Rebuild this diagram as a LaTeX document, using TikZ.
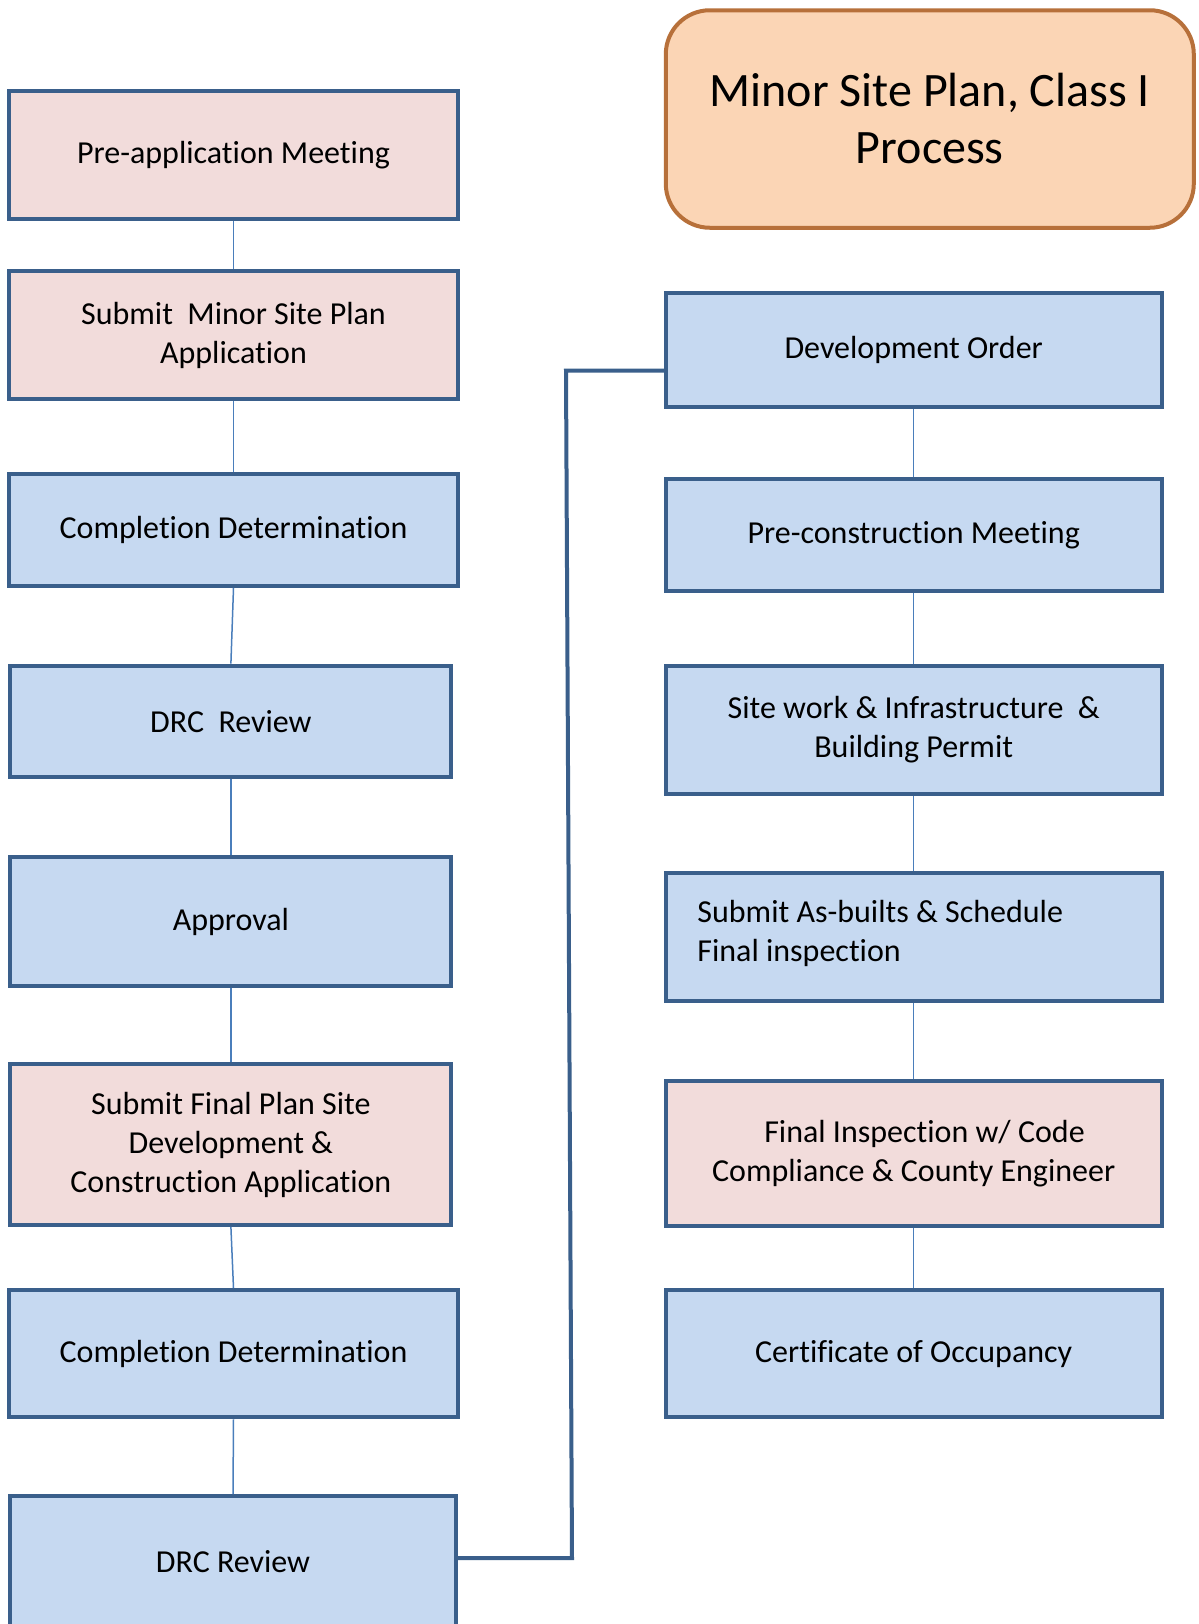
\documentclass[tikz,border=0pt]{standalone}
\usepackage{fontspec}
\setmainfont{Carlito}[Ligatures=NoCommon]
\definecolor{boxline}{HTML}{3A5F8B}
\definecolor{boxblue}{HTML}{C6D9F1}
\definecolor{boxpink}{HTML}{F2DCDB}
\definecolor{titlefill}{HTML}{FBD5B5}
\definecolor{titleline}{HTML}{B7703A}
\definecolor{linkblue}{HTML}{4A7EBB}
\begin{document}
\begin{tikzpicture}
[
    x=0.5pt, y=-0.5pt,
    boxfont/.style={font=\fontsize{16}{19.5}\selectfont},
    box/.style={draw=boxline, line width=2pt, inner sep=0pt, align=center, boxfont},
    bluebox/.style={box, fill=boxblue},
    pinkbox/.style={box, fill=boxpink},
    boxsize/.style 2 args={minimum width=#1*0.5pt, minimum height=#2*0.5pt},
    link/.style={draw=linkblue, line width=0.75pt},
    jump/.style={draw=boxline, line width=2pt},
]
\useasboundingbox (0,0) rectangle (1199,1624);
% title
\node [draw=titleline, fill=titlefill, line width=2pt, rounded corners=22pt,
       boxsize={528}{217.5}, align=center, font=\fontsize{24}{28.5}\selectfont]
      (title) at (929.8,119) {Minor Site Plan, Class I\\Process};
% left column
\node [pinkbox, boxsize={448.4}{128.4}] (preapp) at (233.5,155) {Pre-application Meeting};
\node [pinkbox, boxsize={448.4}{127.6}] (submit) at (233.5,335) {Submit\ \ Minor Site Plan\\Application};
\node [bluebox, boxsize={448.4}{112}] (compl) at (233.5,530) {Completion Determination};
\node [bluebox, boxsize={441}{111.8}] (drc) at (230.9,721.5) {DRC\ \ Review};
\node [bluebox, boxsize={441}{128.4}] (approval) at (230.9,921.5) {Approval};
\node [pinkbox, boxsize={441}{160.5}] (final) at (230.9,1144.6) {Submit Final Plan Site\\Development \&\\Construction Application};
\node [bluebox, boxsize={448.4}{127.4}] (compltwo) at (233.5,1353.7) {Completion Determination};
\node [bluebox, boxsize={445.2}{136}] (drctwo) at (233,1564) {};
\node [boxfont] (drctwotext) at (233,1562) {DRC Review};
% right column
\node [bluebox, boxsize={495.9}{114}] (devord) at (913.7,350) {Development Order};
\node [bluebox, boxsize={495.9}{111.8}] (precon) at (913.7,535.3) {Pre-construction Meeting};
\node [bluebox, boxsize={495.9}{128.4}] (sitework) at (913.7,729.9) {Site work \& Infrastructure\ \ \&\\Building Permit};
\node [bluebox, boxsize={495.9}{128.4}] (asbuilt) at (913.7,937) {};
\node [boxfont, align=left, anchor=west, inner sep=0pt] (asbuilttext) at (697,933)
      {Submit As-builts \& Schedule\\Final inspection};
\node [pinkbox, boxsize={495.9}{145}] (inspect) at (913.7,1153.5) {\ \ \ Final Inspection w/ Code\\Compliance \& County Engineer};
\node [bluebox, boxsize={495.9}{127.4}] (cert) at (913.7,1353.7) {Certificate of Occupancy};
% connectors
\draw [link] (preapp) -- (submit);
\draw [link] (submit) -- (compl);
\draw [link] (compl.south) -- (drc.north);
\draw [link] (drc) -- (approval);
\draw [link] (approval) -- (final);
\draw [link] (final.south) -- (compltwo.north);
\draw [link] (compltwo.south) -- (drctwo.north);
\draw [link] (devord) -- (precon);
\draw [link] (precon) -- (sitework);
\draw [link] (sitework) -- (asbuilt);
\draw [link] (asbuilt) -- (inspect);
\draw [link] (inspect) -- (cert);
\coordinate (jogbot) at (572,1558);
\coordinate (jogtop) at (566,370.7);
\draw [jump] (drctwo.east |- jogbot) -- (jogbot) -- (jogtop) -- (devord.west |- jogtop);
\end{tikzpicture}
\end{document}
